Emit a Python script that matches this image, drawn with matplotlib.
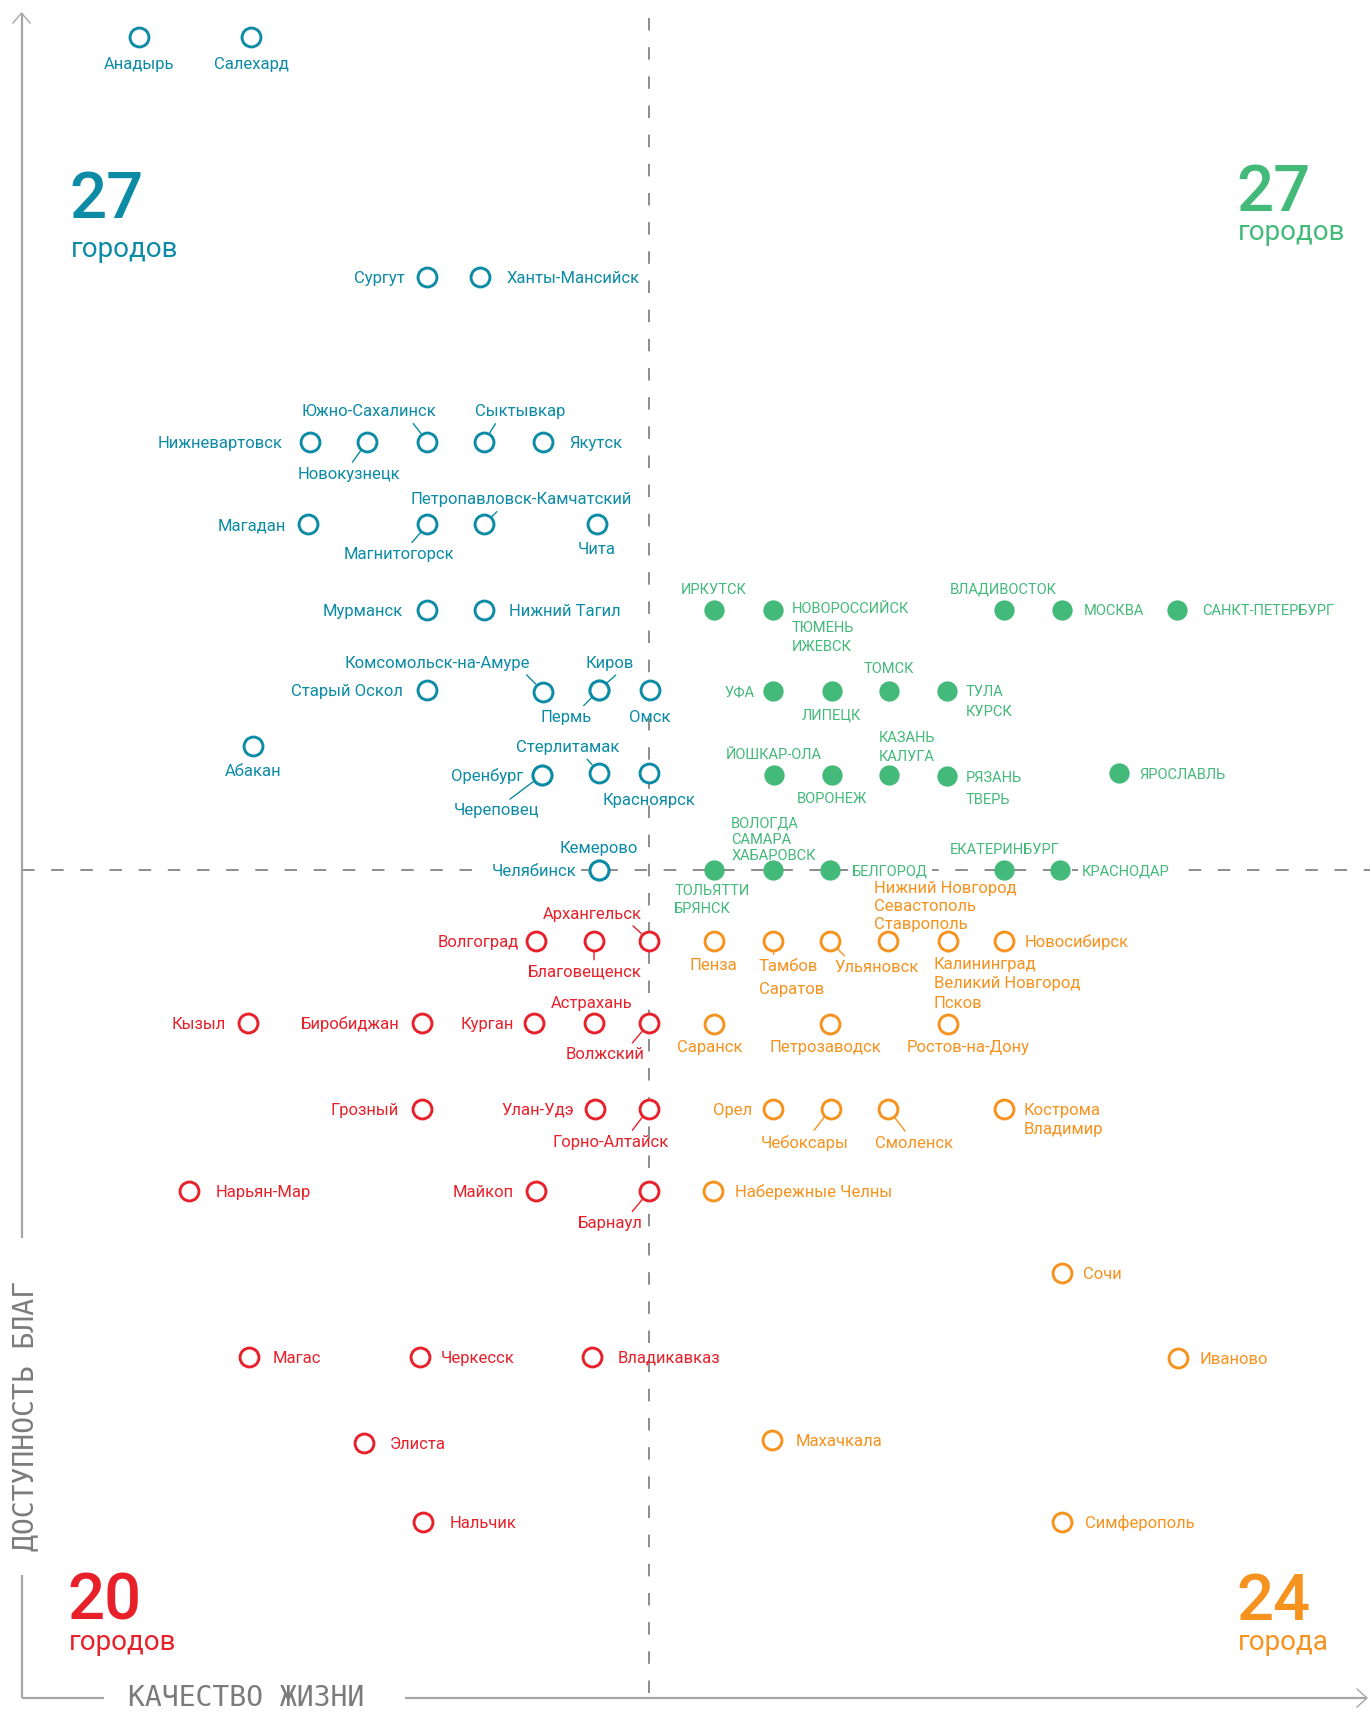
import matplotlib
matplotlib.use("Agg")
import matplotlib.pyplot as plt
from matplotlib.font_manager import FontProperties, fontManager

# ------------------------------------------------------------------ data
# x = "качество жизни", y = "доступность благ" (0 = median, dashed lines)
teal_labels = ["Анадырь", "Салехард", "Сургут", "Ханты-Мансийск",
               "Нижневартовск", "Новокузнецк", "Южно-Сахалинск", "Сыктывкар", "Якутск",
               "Магадан", "Магнитогорск", "Петропавловск-Камчатский", "Чита",
               "Мурманск", "Нижний Тагил",
               "Старый Оскол", "Комсомольск-на-Амуре", "Пермь", "Киров", "Омск",
               "Абакан", "Оренбург", "Череповец", "Стерлитамак", "Красноярск",
               "Кемерово", "Челябинск"]
teal_x = [-8.73, -6.80, -3.79, -2.89,
          -5.80, -4.82, -3.79, -2.82, -1.81,
          -5.83, -3.79, -2.82, -0.89,
          -3.79, -2.82,
          -3.79, -1.81, -0.85, -0.85, 0.02,
          -6.77, -1.83, -1.83, -0.85, 0.00,
          -0.86, -0.86]
teal_y = [9.96, 9.96, 7.09, 7.09,
          5.12, 5.12, 5.12, 5.12, 5.12,
          4.13, 4.13, 4.13, 4.13,
          3.11, 3.11,
          2.15, 2.13, 2.15, 2.15, 2.15,
          1.48, 1.13, 1.13, 1.16, 1.16,
          -0.01, -0.01]

green_labels = ["ИРКУТСК", "НОВОРОССИЙСК\nТЮМЕНЬ\nИЖЕВСК", "ВЛАДИВОСТОК", "МОСКВА",
                "САНКТ-ПЕТЕРБУРГ",
                "УФА", "ЛИПЕЦК", "ТОМСК", "ТУЛА\nКУРСК",
                "ЙОШКАР-ОЛА", "ВОРОНЕЖ", "КАЗАНЬ\nКАЛУГА", "РЯЗАНЬ\nТВЕРЬ", "ЯРОСЛАВЛЬ",
                "ТОЛЬЯТТИ\nБРЯНСК", "ВОЛОГДА\nСАМАРА\nХАБАРОВСК", "БЕЛГОРОД",
                "ЕКАТЕРИНБУРГ", "КРАСНОДАР"]
green_x = [1.11, 2.12, 6.07, 7.07, 9.03,
           2.12, 3.13, 4.10, 5.10,
           2.14, 3.13, 4.10, 5.10, 8.05,
           1.12, 2.12, 3.10, 6.08, 7.03]
green_y = [3.11, 3.11, 3.11, 3.11, 3.11,
           2.14, 2.14, 2.14, 2.14,
           1.13, 1.13, 1.13, 1.12, 1.15,
           0.00, 0.00, 0.00, 0.00, 0.00]

orange_labels = ["Пенза", "Тамбов\nСаратов", "Ульяновск",
                 "Нижний Новгород\nСевастополь\nСтаврополь",
                 "Калининград\nВеликий Новгород\nПсков", "Новосибирск",
                 "Саранск", "Петрозаводск", "Ростов-на-Дону",
                 "Орел", "Чебоксары", "Смоленск", "Кострома\nВладимир",
                 "Набережные Челны", "Сочи", "Иваново", "Махачкала", "Симферополь"]
orange_x = [1.11, 2.13, 3.09, 4.09, 5.11, 6.07,
            1.11, 3.09, 5.11,
            2.13, 3.11, 4.09, 6.07,
            1.10, 7.06, 9.05, 2.11, 7.06]
orange_y = [-0.85, -0.85, -0.85, -0.85, -0.85, -0.85,
            -1.85, -1.85, -1.85,
            -2.86, -2.86, -2.86, -2.86,
            -3.84, -4.83, -5.84, -6.82, -7.81]

red_labels = ["Волгоград", "Благовещенск", "Архангельск",
              "Кызыл", "Биробиджан", "Курган", "Астрахань", "Волжский",
              "Грозный", "Улан-Удэ", "Горно-Алтайск",
              "Нарьян-Мар", "Майкоп", "Барнаул",
              "Магас", "Черкесск", "Владикавказ", "Элиста", "Нальчик"]
red_x = [-1.93, -0.94, 0.00,
         -6.86, -3.89, -1.97, -0.94, 0.00,
         -3.89, -0.92, 0.00,
         -7.87, -1.93, 0.00,
         -6.85, -3.92, -0.98, -4.87, -3.86]
red_y = [-0.85, -0.85, -0.85,
         -1.84, -1.84, -1.84, -1.84, -1.84,
         -2.86, -2.86, -2.86,
         -3.85, -3.85, -3.85,
         -5.83, -5.83, -5.83, -6.86, -7.81]

quadrant_counts = ["27", "27", "20", "24"]
quadrant_words = ["городов", "городов", "городов", "города"]
axis_x_title = "КАЧЕСТВО ЖИЗНИ"
axis_y_title = "ДОСТУПНОСТЬ БЛАГ"

# ------------------------------------------------------------------ style
TEAL = "#0b8ba5"
GREEN = "#43b97a"
ORANGE = "#f6921e"
RED = "#e8202a"
AXIS_GREY = "#a6a6a6"
DASH_GREY = "#8c8c8c"
TITLE_GREY = "#7b7b7b"

names = {f.name for f in fontManager.ttflist}
FONT = "Roboto" if "Roboto" in names else "DejaVu Sans"
TITLE_FONT = "DejaVu Sans Mono" if "DejaVu Sans Mono" in names else FONT
plt.rcParams["font.family"] = [FONT, "DejaVu Sans"]

W, H, DPI = 1370, 1713, 100
fig = plt.figure(figsize=(W / DPI, H / DPI), dpi=DPI)
ax = fig.add_axes([0, 0, 1, 1])
ax.set_axis_off()
# scale: x unit 58.45 px (x=0 at px 648.9); y unit 83.58 px (y=0 at px 869.6 from top)
X0, XU, Y0, YU = 648.9, 58.45, 869.6, 83.58
ax.set_xlim(-X0 / XU, (W - X0) / XU)
ax.set_ylim((Y0 - H) / YU, Y0 / YU)

def fx(px):
    return px / W

def fy(py):
    return 1 - py / H

# ---------------- axes (arrows) in figure pixels
lk = dict(color=AXIS_GREY, lw=1.6, transform=fig.transFigure, solid_capstyle="butt")
ax.plot([fx(21.5), fx(21.5)], [fy(13), fy(1238)], **lk)
ax.plot([fx(21.5), fx(21.5)], [fy(1575), fy(1698)], **lk)
ax.plot([fx(13), fx(21.5), fx(30)], [fy(23), fy(13), fy(23)], color=AXIS_GREY, lw=1.0,
        transform=fig.transFigure)
ax.plot([fx(21.5), fx(104)], [fy(1698), fy(1698)], **lk)
ax.plot([fx(405), fx(1366)], [fy(1698), fy(1698)], **lk)
ax.plot([fx(1357), fx(1367), fx(1357)], [fy(1689), fy(1698), fy(1707)], color=AXIS_GREY,
        lw=1.0, transform=fig.transFigure)

# ---------------- median dashed lines (data value 0)
plt.rcParams["lines.scale_dashes"] = False
ax.plot([0, 0], [(Y0 - 18) / YU, (Y0 - 1698) / YU], color=DASH_GREY, lw=1.4,
        dashes=(9, 12), zorder=1)
ax.plot([(22 - X0) / XU, (W - X0) / XU], [0, 0], color=DASH_GREY, lw=1.4,
        dashes=(9, 12), zorder=1)

# ---------------- label layout: (dx, dy of first-line cap centre, ha, leader relpos, line step)
L = {
    "Анадырь": (0, -25.5, "center", None),
    "Салехард": (0, -25.5, "center", None),
    "Сургут": (-23, 0, "right", None),
    "Ханты-Мансийск": (27, 0, "left", None),
    "Нижневартовск": (-27, 0, "right", None),
    "Новокузнецк": (-18, -31, "center", (0.5, 1)),
    "Южно-Сахалинск": (-58, 31.5, "center", (0.8, 0)),
    "Сыктывкар": (36, 31.5, "center", (0.26, 0)),
    "Якутск": (26, 0, "left", None),
    "Магадан": (-22, 0, "right", None),
    "Магнитогорск": (-28, -28.5, "center", (0.58, 1)),
    "Петропавловск-Камчатский": (37, 26, "center", (0.41, 0)),
    "Чита": (0, -24, "center", None),
    "Мурманск": (-24, 0, "right", None),
    "Нижний Тагил": (25, 0, "left", None),
    "Старый Оскол": (-24, 0, "right", None),
    "Комсомольск-на-Амуре": (-106, 30, "center", (0.96, 0)),
    "Пермь": (-33, -26, "center", (0.76, 1)),
    "Киров": (10.5, 28, "center", (0.72, 0)),
    "Омск": (0, -26, "center", None),
    "Абакан": (0, -24.5, "center", None),
    "Оренбург": (-18.5, 0, "right", None),
    "Череповец": (-45, -34, "center", (0.59, 1)),
    "Стерлитамак": (-31.5, 26.7, "center", (0.65, 0)),
    "Красноярск": (0, -26, "center", None),
    "Кемерово": (0, 23, "center", None),
    "Челябинск": (-22, 0, "right", None),
    # green
    "ИРКУТСК": (0, 21, "center", None),
    "НОВОРОССИЙСК\nТЮМЕНЬ\nИЖЕВСК": (19, 2, "left", None, 16),
    "ВЛАДИВОСТОК": (0, 22, "center", None),
    "МОСКВА": (22, 0, "left", None),
    "САНКТ-ПЕТЕРБУРГ": (25.5, 0, "left", None),
    "УФА": (-18.5, 0, "right", None),
    "ЛИПЕЦК": (0, -23, "center", None),
    "ТОМСК": (0, 23, "center", None),
    "ТУЛА\nКУРСК": (19, 0, "left", None, 17),
    "ЙОШКАР-ОЛА": (0, 22, "center", None),
    "ВОРОНЕЖ": (0, -22.5, "center", None),
    "КАЗАНЬ\nКАЛУГА": (-9.7, 38.7, "left", None, 16.4),
    "РЯЗАНЬ\nТВЕРЬ": (19, -0.6, "left", None, 19),
    "ЯРОСЛАВЛЬ": (20, 0, "left", None),
    "ТОЛЬЯТТИ\nБРЯНСК": (-40, -19.7, "left", None, 15),
    "ВОЛОГДА\nСАМАРА\nХАБАРОВСК": (-41.6, 48, "left", None, 13.5),
    "БЕЛГОРОД": (22, 0, "left", None),
    "ЕКАТЕРИНБУРГ": (0, 21, "center", None),
    "КРАСНОДАР": (21.6, 0, "left", None),
    # orange
    "Пенза": (0, -23, "center", None),
    "Тамбов\nСаратов": (-14.7, -24.6, "left", (0.23, 1), 19.3),
    "Ульяновск": (47, -25.3, "center", (0.17, 1)),
    "Нижний Новгород\nСевастополь\nСтаврополь": (-14, 54, "left", None, 15.4),
    "Калининград\nВеликий Новгород\nПсков": (-13.8, -22.5, "left", (0.1, 1), 16.2),
    "Новосибирск": (21.4, 0, "left", None),
    "Саранск": (-3.8, -21.5, "center", None),
    "Петрозаводск": (-4, -21.5, "center", None),
    "Ростов-на-Дону": (21, -21.5, "center", None),
    "Орел": (-21.4, 0, "right", None),
    "Чебоксары": (-26, -33, "center", (0.57, 1)),
    "Смоленск": (26, -33, "center", (0.43, 1)),
    "Кострома\nВладимир": (20, 0, "left", None, 16),
    "Набережные Челны": (22, 0, "left", None),
    "Сочи": (21, 0, "left", None),
    "Иваново": (22, 0, "left", None),
    "Махачкала": (23, 0, "left", None),
    "Симферополь": (23, 0, "left", None),
    # red
    "Волгоград": (-17, 0, "right", None),
    "Благовещенск": (-9, -30, "center", (0.58, 1)),
    "Архангельск": (-57, 28, "center", (0.87, 0)),
    "Кызыл": (-22, 0, "right", None),
    "Биробиджан": (-22, 0, "right", None),
    "Курган": (-20, 0, "right", None),
    "Астрахань": (-2, 21.6, "center", None),
    "Волжский": (-44, -30, "center", (0.8, 1)),
    "Грозный": (-23, 0, "right", None),
    "Улан-Удэ": (-21, 0, "right", None),
    "Горно-Алтайск": (-38.5, -32, "center", (0.66, 1)),
    "Нарьян-Мар": (27, 0, "left", None),
    "Майкоп": (-22, 0, "right", None),
    "Барнаул": (-39, -30.5, "center", (0.79, 1)),
    "Магас": (24.5, 0, "left", None),
    "Черкесск": (21, 0, "left", None),
    "Владикавказ": (26, 0, "left", None),
    "Элиста": (25.4, 0, "left", None),
    "Нальчик": (26.4, 0, "left", None),
}
ON_LINE = {"Челябинск", "БЕЛГОРОД", "КРАСНОДАР"}

fig.canvas.draw()
renderer = fig.canvas.get_renderer()

def metrics(size, family=FONT):
    fp = FontProperties(family=family, size=size)
    _, hh, dd = renderer.get_text_width_height_descent("Н", fp, ismath=False)
    _, lh, ld = renderer.get_text_width_height_descent("lp", fp, ismath=False)
    return hh - dd, lh - ld

CITY_FS, CAPS_FS = 12.0, 10.5

def draw_group(labels, xs, ys, color, filled, fs):
    cap, asc = metrics(fs)
    if filled:
        ax.plot(xs, ys, "o", ms=14.6, mfc=color, mec=color, mew=0, zorder=3, ls="none")
    else:
        ax.plot(xs, ys, "o", ms=13.6, mfc="white", mec=color, mew=2.1, zorder=3, ls="none")
    for lab, x, y in zip(labels, xs, ys):
        spec = L[lab]
        dx, dy, ha, leader = spec[:4]
        n = lab.count("\n") + 1
        kw = dict(xy=(x, y), textcoords="offset pixels", ha=ha, color=color,
                  fontsize=fs, zorder=4)
        if n == 1:
            kw["va"] = "baseline"
            ty = dy - cap / 2
        else:
            kw["va"] = "top"
            kw["linespacing"] = spec[4] / asc
            ty = dy + cap / 2 + (asc - cap)
        if leader is not None:
            kw["arrowprops"] = dict(arrowstyle="-", color=color, lw=1.0,
                                    shrinkA=1.5, shrinkB=7.6, relpos=leader)
        if lab in ON_LINE:
            kw["bbox"] = dict(boxstyle="square,pad=0.25", fc="white", ec="none")
        ax.annotate(lab, xytext=(dx, ty), **kw)

draw_group(teal_labels, teal_x, teal_y, TEAL, False, CITY_FS)
draw_group(green_labels, green_x, green_y, GREEN, True, CAPS_FS)
draw_group(orange_labels, orange_x, orange_y, ORANGE, False, CITY_FS)
draw_group(red_labels, red_x, red_y, RED, False, CITY_FS)

# ---------------- quadrant counters
q_pos = [(72, 218, 257), (1239, 211, 240), (70, 1620, 1650), (1239, 1620, 1650)]
q_col = [TEAL, GREEN, RED, ORANGE]
for num, word, (px, b1, b2), c in zip(quadrant_counts, quadrant_words, q_pos, q_col):
    fig.text(fx(px - 3), fy(b1), num, color=c, fontsize=47, fontweight=500,
             ha="left", va="baseline")
    fig.text(fx(px - 1), fy(b2), word, color=c, fontsize=20, ha="left", va="baseline")

# ---------------- axis titles (fitted to their span)
def fitted(text, target, **kw):
    t = fig.text(0, 0, text, **kw)
    ext = t.get_window_extent(renderer)
    length = ext.height if kw.get("rotation", 0) == 90 else ext.width
    t.set_fontsize(kw["fontsize"] * target / length)
    return t

tx = fitted(axis_x_title, 238, fontsize=24, family=TITLE_FONT, color=TITLE_GREY,
            ha="left", va="bottom")
tx.set_position((fx(128), fy(1712)))
ty_ = fitted(axis_y_title, 272, fontsize=24, family=TITLE_FONT, color=TITLE_GREY,
             rotation=90, ha="left", va="center")
ty_.set_position((fx(11), fy(1416)))

fig.savefig("out.png", dpi=DPI, facecolor="white")
